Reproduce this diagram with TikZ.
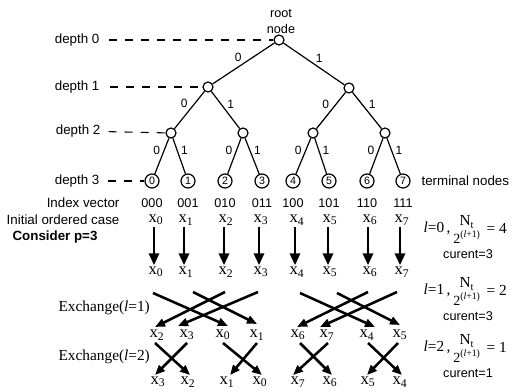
\documentclass[tikz,border=0pt]{standalone}
\usepackage{fontspec}
\setmainfont{Liberation Serif}
\setsansfont{Liberation Sans}
\usetikzlibrary{arrows.meta}

\tikzset{
    inner/.style={circle, draw, line width=0.9pt, minimum size=7.5pt, inner sep=0pt},
    leaf/.style={circle, draw, line width=0.9pt, minimum size=10.5pt, inner sep=0pt, font=\sffamily\fontsize{8}{8}\selectfont},
    edge/.style={line width=0.9pt},
    lvl/.style={line width=0.8pt, dash pattern=on 6pt off 6pt},
    bit/.style={font=\sffamily\fontsize{9}{9}\selectfont, inner sep=1pt},
    txt/.style={font=\sffamily\fontsize{10}{12}\selectfont, inner sep=1pt},
    small/.style={font=\sffamily\fontsize{9.5}{12}\selectfont, inner sep=1pt},
    xl/.style={font=\fontsize{12.5}{12}\selectfont, inner sep=1pt},
    frm/.style={font=\fontsize{11.5}{12}\selectfont, inner sep=1pt},
    down/.style={line width=2.2pt, -{Triangle[length=9pt, width=7.5pt]}},
    swap/.style={line width=1.9pt, -{Triangle[length=7.5pt, width=6pt]}},
}

\begin{document}
\begin{tikzpicture}[x=0.75pt, y=-0.75pt]
    \useasboundingbox (0,0) rectangle (514,391);

    % tree
    \node[inner] (root) at (279,40) {};
    \node[small, align=center] (rootlab) at (281,21) {root\\node};
    \node[inner] (n0) at (208,87) {};
    \node[inner] (n1) at (349,88) {};
    \node[inner] (n00) at (171,133) {};
    \node[inner] (n01) at (243,133) {};
    \node[inner] (n10) at (313,133) {};
    \node[inner] (n11) at (385,133) {};
    \foreach \i/\x in {0/152,1/188,2/225,3/262,4/293,5/329,6/367,7/403}
        \node[leaf] (t\i) at (\x,181) {\i};

    \draw[edge] (root) -- node[bit, above left] {0} (n0);
    \draw[edge] (root) -- node[bit, above right] {1} (n1);
    \draw[edge] (n0) -- node[bit, above left] {0} (n00);
    \draw[edge] (n0) -- node[bit, above right] {1} (n01);
    \draw[edge] (n1) -- node[bit, above left] {0} (n10);
    \draw[edge] (n1) -- node[bit, above right] {1} (n11);
    \foreach \p/\a/\b in {n00/0/1, n01/2/3, n10/4/5, n11/6/7} {
        \draw[edge] (\p) -- node[bit, above left] {0} (t\a);
        \draw[edge] (\p) -- node[bit, above right] {1} (t\b);
    }
    \node[txt, anchor=west] (term) at (420,181) {terminal nodes};

    % depths
    \node[txt, anchor=east] (d0) at (101,40) {depth 0};
    \node[txt, anchor=east] (d1) at (101,87) {depth 1};
    \node[txt, anchor=east] (d2) at (102,131) {depth 2};
    \node[txt, anchor=east] (d3) at (101,181) {depth 3};
    \draw[lvl, shorten <=6pt] (d0) -- (root);
    \draw[lvl, shorten <=7pt] (d1) -- (n0);
    \draw[lvl, shorten <=5pt] (d2) -- (n00);
    \draw[lvl, shorten <=5pt] (d3) -- (t0);

    % index vector and ordered cases
    \node[txt, anchor=east] (idx) at (121,203) {Index vector};
    \foreach \i/\b in {0/000,1/001,2/010,3/011,4/100,5/101,6/110,7/111}
        \node[small] (v\i) at (t\i |- idx) {\b};
    \node[txt, anchor=east] (init) at (121,220) {Initial ordered case};
    \node[txt, font=\sffamily\bfseries\fontsize{10}{12}\selectfont, anchor=west] (cons) at (11,237) {Consider p=3};

    \foreach \i/\x in {0/156,1/186,2/226,3/261,4/297,5/330,6/370,7/402} {
        \node[xl] (p\i) at (\x,220) {x\textsubscript{\i}};
        \node[xl] (q\i) at (\x,272) {x\textsubscript{\i}};
        \draw[down] ([xshift=-1.5pt]p\i.south) -- ([xshift=-1.5pt]q\i.north);
    }

    \foreach \i/\x in {2/157,3/187,0/223,1/257,6/298,7/327,4/367,5/400}
        \node[xl] (s\i) at (\x,335) {x\textsubscript{\i}};
    \foreach \i/\x in {3/158,2/188,1/227,0/260,7/298,6/330,5/368,4/400}
        \node[xl] (u\i) at (\x,382) {x\textsubscript{\i}};

    % exchanges
    \node[frm, anchor=west] (ex1) at (57,308) {Exchange(\textit{l}=1)};
    \node[frm, anchor=west] (ex2) at (57,357) {Exchange(\textit{l}=2)};
    \foreach \i/\a/\b/\c/\d in {0/-3/21/5/-9, 1/7/20/0/-11, 2/-1/20/-2/-8, 3/-3/20/-9/-9,
                               4/3/21/8/-8, 5/7/21/0/-10, 6/-2/20/-1/-8, 7/-5/20/-7/-8}
        \draw[swap] ([shift={(\a,\b)}]q\i.center) -- ([shift={(\c,\d)}]s\i.center);
    \foreach \i/\a/\c in {2/-2/2, 3/0/-3, 0/0/2, 1/0/3, 6/2/2, 7/1/-5, 4/1/2, 5/-2/-1}
        \draw[swap] ([shift={(\a,8)}]s\i.center) -- ([shift={(\c,-7)}]u\i.center);

    % right side
    \foreach \l/\r/\y/\c in {0/4/228/3, 1/2/290/3, 2/1/347/1} {
        \node[frm, anchor=west] (lv\l) at (422,\y) {\textit{l}=\l\,,};
        \node[frm] (nt\l) at (467,\y-6) {N\textsubscript{t}};
        \node[frm, font=\fontsize{10.5}{12}\selectfont] (dn\l) at (467,\y+9) {2\textsuperscript{(\textit{l}+1)}};
        \node[frm, anchor=west] (rs\l) at (485,\y) {= \r};
        \node[small] (cur\l) at (468,\y+26) {curent=\c};
    }
\end{tikzpicture}
\end{document}
